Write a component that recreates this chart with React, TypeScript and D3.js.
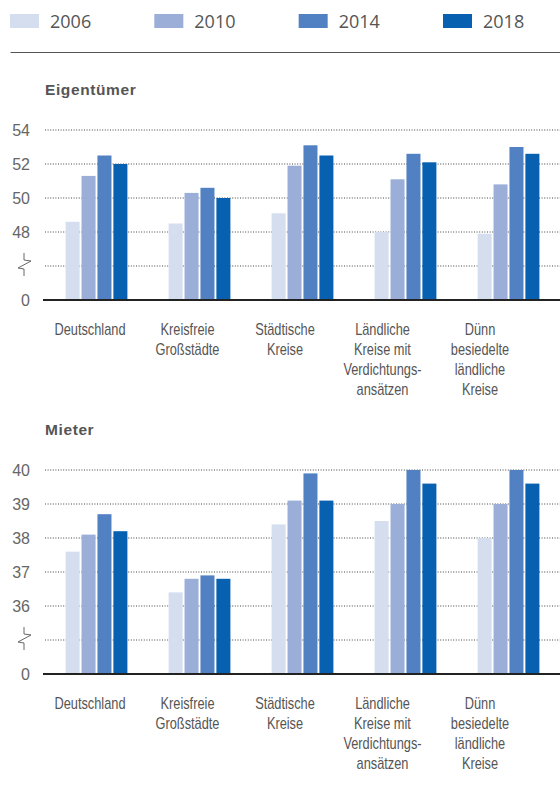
import React from "react";
import * as d3 from "d3";

const years = ["2006", "2010", "2014", "2018"];
const colors = ["#d5deef", "#9aaed7", "#5181c2", "#0761b0"];
const categories = ["Deutschland", "Kreisfreie Großstädte", "Städtische Kreise", "Ländliche Kreise mit Verdichtungsansätzen", "Dünn besiedelte ländliche Kreise"];
const categoryLines = [
  ["Deutschland"],
  ["Kreisfreie", "Großstädte"],
  ["Städtische", "Kreise"],
  ["Ländliche", "Kreise mit", "Verdichtungs-", "ansätzen"],
  ["Dünn", "besiedelte", "ländliche", "Kreise"],
];

// Eigentümer (values per year, per category)
const eigentuemer2006 = [48.6, 48.5, 49.1, 48.0, 47.9];
const eigentuemer2010 = [51.3, 50.3, 51.9, 51.1, 50.8];
const eigentuemer2014 = [52.5, 50.6, 53.1, 52.6, 53.0];
const eigentuemer2018 = [52.0, 50.0, 52.5, 52.1, 52.6];
const eigentuemerTicks = [44, 46, 48, 50, 52, 54];
const eigentuemerTickLabels = ["0", "break", "48", "50", "52", "54"];

// Mieter
const mieter2006 = [37.6, 36.4, 38.4, 38.5, 38.0];
const mieter2010 = [38.1, 36.8, 39.1, 39.0, 39.0];
const mieter2014 = [38.7, 36.9, 39.9, 40.0, 40.0];
const mieter2018 = [38.2, 36.8, 39.1, 39.6, 39.6];
const mieterTicks = [34, 35, 36, 37, 38, 39, 40];
const mieterTickLabels = ["0", "break", "36", "37", "38", "39", "40"];

const W = 560;
const H = 803;
const plotLeft = 45;
const plotRight = 560;
const textColor = "#555";

type PanelProps = {
  title: string;
  titleY: number;
  series: number[][];
  ticks: number[];
  tickLabels: string[];
  yBottom: number;
  yTop: number;
};

function Panel({ title, titleY, series, ticks, tickLabels, yBottom, yTop }: PanelProps) {
  const x0 = d3.scaleBand<string>().domain(categories).range([plotLeft, plotRight]).paddingInner(0.4).paddingOuter(0.2);
  const x1 = d3.scaleBand<string>().domain(years).range([0, x0.bandwidth()]).paddingInner(0.12);
  const y = d3.scaleLinear().domain([ticks[0], ticks[ticks.length - 1]]).range([yBottom, yTop]);
  const xl = d3.scalePoint<string>().domain(categories).range([90, 480]);
  return (
    <g>
      <text x={plotLeft} y={titleY} fontFamily="'Liberation Sans', Arial, sans-serif" fontWeight="bold" fontSize={15.5} letterSpacing={0.6} fill={textColor}>
        {title}
      </text>
      {ticks.map((t, i) => {
        const yy = y(t);
        const isZero = i === 0;
        const isBreak = tickLabels[i] === "break";
        return (
          <g key={t}>
            {!isZero && (
              <line x1={plotLeft} x2={plotRight} y1={yy} y2={yy} stroke="#444" strokeWidth={1} strokeDasharray="1 1.6" />
            )}
            {isBreak ? (
              <path
                d={`M24,${yy - 13} V${yy - 6} L31,${yy - 5} L18,${yy + 2} L24,${yy + 3} V${yy + 10}`}
                fill="none"
                stroke="#666"
                strokeWidth={1}
              />
            ) : (
              <text x={30} y={yy + 6} textAnchor="end" fontFamily="'Liberation Sans', Arial, sans-serif" fontSize={16} fill="#666">
                {tickLabels[i]}
              </text>
            )}
          </g>
        );
      })}
      {categories.map((c, ci) => (
        <g key={c} transform={`translate(${x0(c)},0)`}>
          {years.map((yr, si) => {
            const v = series[si][ci];
            return (
              <rect key={yr} x={x1(yr)} y={y(v)} width={x1.bandwidth()} height={y(ticks[0]) - y(v)} fill={colors[si]} />
            );
          })}
        </g>
      ))}
      <line x1={plotLeft - 2} x2={plotRight} y1={yBottom} y2={yBottom} stroke="#222" strokeWidth={2} />
      {categories.map((c, ci) => (
        <g key={c} transform={`translate(${xl(c)},0) scale(0.8,1)`}>
          <text textAnchor="middle" fontFamily="'Liberation Sans', Arial, sans-serif" fontSize={16} fill={textColor}>
            {categoryLines[ci].map((ln, li) => (
              <tspan key={li} x={0} y={yBottom + 35 + li * 20}>
                {ln}
              </tspan>
            ))}
          </text>
        </g>
      ))}
    </g>
  );
}

export default function App() {
  const legendX = d3.scalePoint<string>().domain(years).range([10, 443]);
  return (
    <svg width={W} height={H} style={{ position: "absolute", left: 0, top: 0, background: "#fff" }}>
      {years.map((yr, i) => (
        <g key={yr}>
          <rect x={legendX(yr)} y={14} width={29} height={14} fill={colors[i]} />
          <text x={(legendX(yr) as number) + 40} y={28} fontFamily="'Open Sans', sans-serif" fontSize={18} fill={textColor}>
            {yr}
          </text>
        </g>
      ))}
      <line x1={10.5} x2={560} y1={52.5} y2={52.5} stroke="#555" strokeWidth={1.2} />
      <Panel
        title="Eigentümer"
        titleY={95}
        series={[eigentuemer2006, eigentuemer2010, eigentuemer2014, eigentuemer2018]}
        ticks={eigentuemerTicks}
        tickLabels={eigentuemerTickLabels}
        yBottom={300}
        yTop={130}
      />
      <Panel
        title="Mieter"
        titleY={435}
        series={[mieter2006, mieter2010, mieter2014, mieter2018]}
        ticks={mieterTicks}
        tickLabels={mieterTickLabels}
        yBottom={674}
        yTop={470}
      />
    </svg>
  );
}
